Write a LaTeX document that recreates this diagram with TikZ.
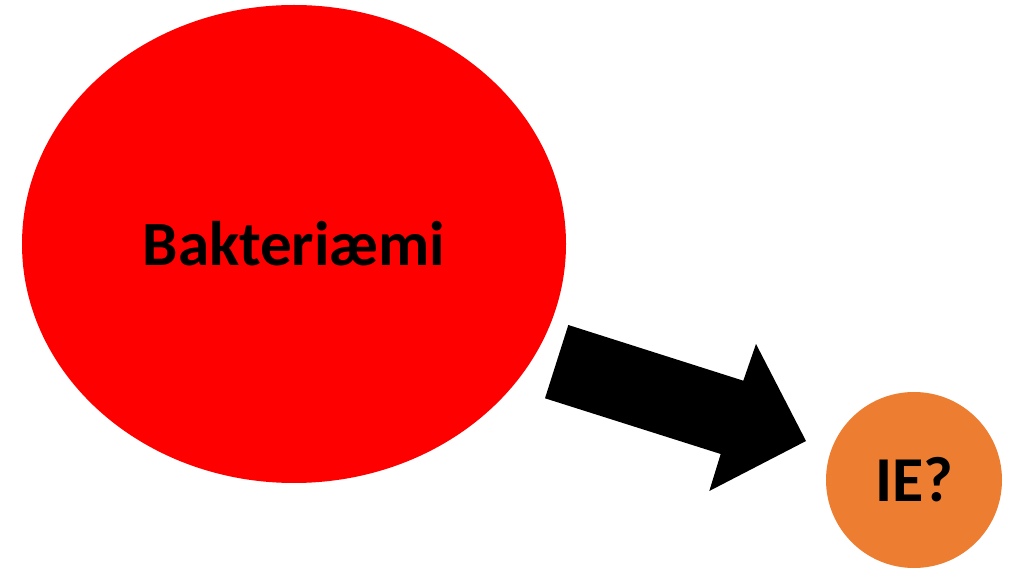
\documentclass[tikz,border=0pt]{standalone}
\usepackage{fontspec}
\setmainfont{Carlito}
\usetikzlibrary{shapes.geometric}
\definecolor{bigred}{HTML}{FF0000}
\definecolor{ieorange}{HTML}{ED7D31}
\tikzset{
  blob/.style={ellipse, inner sep=0pt, font=\bfseries\fontsize{63}{75}\selectfont, text=black},
  fatarrow/.style={fill=black, draw=none}
}
\begin{document}
\begin{tikzpicture}[x=1pt, y=-1pt]
\useasboundingbox (0,0) rectangle (1010,569);
\node[blob, fill=bigred, minimum width=544pt, minimum height=478pt] (bak) at (294,244) {Bakteriæmi};
\node[blob, fill=ieorange, minimum width=176pt, minimum height=176pt, font=\bfseries\fontsize{64}{76}\selectfont] (ie) at (914,480) {IE?};
\fill[fatarrow] (568.3,325) -- (743.3,380.7) -- (756,344) -- (806,441) -- (709.3,491) -- (720.7,454) -- (545,398.3) -- cycle;
\end{tikzpicture}
\end{document}
